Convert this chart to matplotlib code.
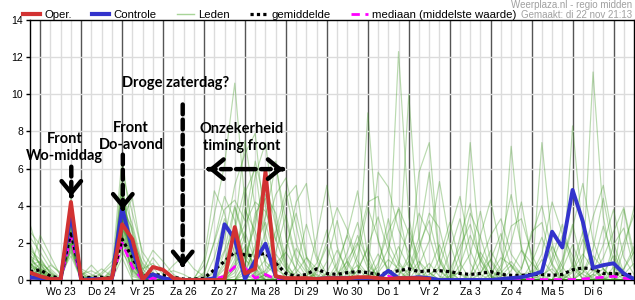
import numpy as np
import matplotlib
matplotlib.use("Agg")
import matplotlib.pyplot as plt
from matplotlib.lines import Line2D

plt.rcParams["font.family"] = ["Liberation Sans", "DejaVu Sans"]

# ── Data: 6-hourly precipitation (mm), first step = di 22 18:00 ─────────────
uren = np.arange(-6, 349, 6)  # hours after wo 23 00:00

dag_labels = ["Wo 23", "Do 24", "Vr 25", "Za 26", "Zo 27", "Ma 28", "Di 29",
              "Wo 30", "Do 1", "Vr 2", "Za 3", "Zo 4", "Ma 5", "Di 6"]

oper = [0.4, 0.2, 0.05, 0.05, 4.2, 0.0, 0.0, 0.05, 0.1, 3.0, 2.2, 0.0,
        0.7, 0.55, 0.1, 0.0, 0.0, 0.0, 0.0, 0.0, 2.85, 0.35, 0.6, 5.85,
        0.2, 0.1, 0.1, 0.1, 0.05, 0.1, 0.1, 0.1, 0.15, 0.15, 0.1, 0.05,
        0.1, 0.1, 0.1, 0.05] + [np.nan] * 20

controle = [0.15, 0.1, 0.05, 0.05, 3.6, 0.0, 0.05, 0.05, 0.05, 3.9, 1.6, 0.05,
            0.3, 0.1, 0.0, 0.0, 0.0, 0.0, 0.1, 3.0, 2.2, 0.05, 1.05, 1.95,
            0.2, 0.05, 0.05, 0.05, 0.05, 0.1, 0.1, 0.1, 0.05, 0.05, 0.05, 0.5,
            0.1, 0.1, 0.15, 0.1, 0.0, 0.0, 0.0, 0.0, 0.0, 0.0, 0.05, 0.1,
            0.15, 0.27, 0.45, 2.6, 1.75, 4.85, 3.15, 0.65, 0.8, 0.9, 0.35, 0.05]

gemiddelde = [0.45, 0.55, 0.2, 0.1, 2.6, 0.1, 0.15, 0.15, 0.1, 2.2, 1.2, 0.2,
              0.3, 0.25, 0.15, 0.05, 0.05, 0.1, 0.55, 1.0, 1.5, 1.35, 1.3, 1.45,
              0.9, 0.35, 0.2, 0.3, 0.6, 0.35, 0.3, 0.4, 0.45, 0.4, 0.3, 0.4,
              0.5, 0.6, 0.45, 0.5, 0.5, 0.45, 0.35, 0.3, 0.35, 0.45, 0.3, 0.25,
              0.25, 0.3, 0.3, 0.25, 0.3, 0.55, 0.65, 0.6, 0.35, 0.35, 0.3, 0.3]

mediaan = [0.1, 0.15, 0.0, 0.0, 2.3, 0.0, 0.0, 0.05, 0.05, 2.0, 0.7, 0.0,
           0.1, 0.05, 0.0, 0.0, 0.0, 0.0, 0.05, 0.2, 0.72, 0.65, 0.1, 0.3,
           0.05, 0.02, 0.02, 0.02, 0.05, 0.02, 0.02, 0.05, 0.05, 0.02, 0.02, 0.2,
           0.05, 0.05, 0.02, 0.02, 0.02, 0.02, 0.02, 0.02, 0.02, 0.02, 0.02, 0.02,
           0.02, 0.02, 0.02, 0.02, 0.02, 0.02, 0.05, 0.1, 0.15, 0.2, 0.1, 0.02]

lid_01 = [3.0, 1.2, 0.3, 0.0, 2.8, 0.1, 0.0, 0.0, 0.2, 4.1, 1.8, 0.0,
          0.4, 0.1, 0.0, 0.0, 0.0, 0.3, 2.1, 4.5, 3.2, 1.1, 0.6, 0.2,
          0.1, 0.0, 0.4, 1.2, 0.6, 0.0, 0.2, 1.5, 3.1, 0.8, 0.2, 0.0,
          0.0, 0.3, 1.0, 0.4, 0.0, 0.0, 0.8, 2.4, 1.1, 0.2, 0.0, 0.5,
          1.6, 0.9, 0.3, 0.0, 0.0, 0.4, 2.2, 0.7, 0.1, 0.0, 0.6, 1.8]
lid_02 = [0.5, 2.4, 1.3, 0.2, 3.4, 0.3, 0.5, 0.2, 0.0, 2.6, 0.9, 0.1,
          0.0, 0.0, 0.0, 0.0, 0.1, 0.8, 3.5, 6.2, 10.6, 4.1, 1.0, 0.3,
          0.0, 0.0, 0.0, 0.2, 0.9, 2.7, 0.5, 0.0, 0.0, 0.3, 1.4, 0.6,
          12.3, 3.4, 0.5, 0.0, 0.0, 0.2, 0.4, 0.0, 0.0, 1.1, 2.5, 0.7,
          0.2, 0.0, 0.0, 0.0, 0.6, 1.9, 0.5, 0.1, 0.0, 0.0, 0.3, 0.9]
lid_03 = [1.8, 0.8, 0.2, 0.0, 4.5, 0.2, 0.1, 0.0, 0.5, 6.6, 2.4, 0.3,
          1.2, 0.5, 0.0, 0.0, 0.0, 0.0, 0.0, 1.5, 2.8, 7.5, 3.9, 0.8,
          0.3, 0.0, 0.0, 0.0, 0.5, 1.8, 0.4, 0.0, 0.0, 9.0, 2.1, 0.3,
          0.0, 0.0, 0.0, 0.6, 1.9, 0.4, 0.0, 0.0, 0.0, 0.0, 0.2, 0.8,
          0.3, 0.0, 0.0, 1.2, 3.0, 0.9, 0.0, 0.0, 0.4, 1.3, 0.2, 0.0]
lid_04 = [0.9, 0.4, 0.0, 0.0, 1.9, 0.0, 0.0, 0.3, 0.8, 3.3, 4.4, 1.2,
          0.3, 0.0, 0.0, 0.0, 0.0, 0.0, 0.4, 2.2, 5.1, 6.8, 7.9, 2.5,
          0.6, 0.2, 0.0, 0.1, 0.3, 0.0, 0.0, 0.8, 2.4, 1.0, 0.1, 0.0,
          0.5, 10.0, 2.2, 0.4, 0.0, 0.0, 0.0, 0.3, 1.5, 0.6, 0.0, 0.0,
          0.0, 0.2, 1.1, 0.4, 0.0, 0.0, 0.6, 11.2, 3.4, 0.5, 0.0, 0.0]
lid_05 = [2.3, 1.5, 0.6, 0.1, 2.2, 0.0, 0.2, 0.6, 0.2, 1.5, 0.6, 0.0,
          0.0, 0.0, 0.2, 0.0, 0.0, 0.0, 0.0, 0.0, 0.6, 2.4, 5.6, 7.4,
          3.1, 0.8, 0.2, 0.0, 0.0, 0.0, 0.3, 1.0, 0.2, 0.0, 0.0, 0.5,
          1.8, 0.7, 5.8, 7.4, 1.2, 0.2, 0.0, 0.0, 0.0, 0.0, 0.4, 1.0,
          0.3, 0.0, 0.0, 0.0, 0.0, 0.8, 2.6, 0.9, 0.0, 0.0, 0.0, 0.2]
lid_06 = [0.2, 0.1, 0.0, 0.0, 3.1, 0.1, 0.0, 0.0, 0.0, 5.2, 1.2, 0.0,
          0.0, 0.0, 0.0, 0.0, 0.0, 1.1, 4.8, 3.6, 1.4, 0.3, 0.0, 0.0,
          0.0, 0.0, 0.0, 0.0, 0.0, 0.4, 1.6, 0.5, 0.0, 0.2, 0.7, 3.3,
          1.0, 0.2, 0.0, 0.0, 0.6, 0.0, 0.0, 7.4, 1.3, 0.2, 0.0, 0.0,
          0.0, 0.0, 7.4, 2.0, 0.3, 0.0, 0.0, 0.2, 0.6, 0.1, 0.0, 0.0]
lid_07 = [1.1, 0.6, 0.0, 0.0, 2.6, 0.4, 0.0, 0.0, 0.0, 3.8, 2.8, 0.5,
          1.6, 1.0, 0.3, 0.0, 0.0, 0.0, 0.0, 0.0, 0.2, 1.3, 2.9, 5.8,
          6.4, 2.3, 0.4, 0.0, 0.0, 0.0, 0.0, 0.0, 0.5, 1.7, 0.3, 0.0,
          0.0, 0.0, 0.3, 0.9, 0.2, 0.0, 0.0, 0.0, 0.0, 0.0, 0.0, 7.2,
          1.6, 0.3, 0.0, 0.0, 0.0, 0.0, 0.0, 0.5, 1.9, 3.8, 1.2, 0.3]
lid_08 = [0.6, 0.3, 0.8, 0.4, 1.5, 0.0, 0.0, 0.0, 0.3, 2.0, 0.5, 0.0,
          0.0, 0.0, 0.0, 0.0, 0.0, 0.0, 0.0, 0.2, 1.8, 3.0, 4.2, 3.7,
          2.1, 4.4, 5.1, 1.3, 0.2, 0.0, 0.0, 0.0, 0.0, 0.0, 0.4, 1.1,
          0.6, 0.0, 0.0, 0.0, 0.0, 0.0, 0.5, 1.4, 3.7, 1.0, 0.1, 0.0,
          0.0, 0.0, 0.3, 0.6, 0.0, 8.3, 2.4, 0.6, 0.0, 0.0, 0.0, 0.0]
lid_09 = [0.3, 0.9, 0.5, 0.0, 3.8, 0.5, 0.1, 0.0, 0.0, 4.6, 3.0, 0.8,
          0.2, 0.0, 0.0, 0.0, 0.0, 0.0, 0.0, 0.0, 0.0, 0.5, 1.7, 3.4,
          6.2, 3.2, 1.0, 0.2, 0.0, 0.0, 0.0, 0.0, 0.0, 0.0, 0.0, 0.0,
          0.0, 0.6, 2.3, 5.8, 1.1, 0.0, 0.0, 0.0, 0.4, 1.1, 0.3, 0.0,
          0.0, 0.0, 0.0, 0.0, 0.2, 0.6, 0.1, 0.0, 0.0, 0.3, 3.8, 1.0]
lid_10 = [0.0, 0.0, 0.0, 0.0, 2.0, 0.0, 0.0, 0.0, 0.0, 2.9, 1.4, 0.2,
          0.0, 0.0, 0.0, 0.0, 0.0, 0.0, 1.2, 3.3, 1.9, 0.6, 0.2, 0.5,
          1.4, 0.6, 0.0, 0.0, 0.0, 0.0, 0.0, 0.0, 0.0, 0.0, 0.0, 0.0,
          0.0, 0.0, 0.0, 0.0, 0.0, 0.0, 0.0, 0.0, 0.0, 0.0, 0.0, 0.0,
          0.0, 0.0, 0.0, 0.0, 0.0, 0.0, 0.0, 0.0, 0.0, 0.0, 0.0, 0.0]
lid_11 = [1.4, 0.2, 0.0, 0.0, 3.6, 0.2, 0.8, 0.2, 0.0, 3.5, 0.3, 0.0,
          0.0, 0.0, 0.0, 0.0, 0.0, 0.0, 0.0, 0.0, 0.0, 0.0, 0.8, 2.6,
          4.6, 5.5, 2.9, 0.6, 0.1, 0.0, 0.0, 0.3, 0.8, 0.2, 0.0, 0.0,
          0.0, 0.0, 0.0, 0.0, 1.2, 3.1, 0.9, 0.0, 0.0, 0.0, 0.0, 0.0,
          0.2, 0.5, 0.0, 0.0, 0.0, 0.0, 0.0, 0.0, 0.0, 0.7, 0.2, 0.0]
lid_12 = [0.8, 1.0, 0.4, 0.0, 2.4, 0.0, 0.0, 0.0, 0.0, 4.9, 1.9, 0.6,
          0.9, 0.3, 0.5, 0.3, 0.0, 0.0, 0.0, 0.8, 3.9, 2.0, 0.3, 0.0,
          0.0, 0.0, 0.0, 0.0, 0.0, 0.0, 0.0, 0.0, 0.0, 0.5, 5.8, 5.0,
          2.7, 1.5, 0.3, 0.0, 0.0, 0.0, 0.0, 0.0, 0.0, 0.0, 0.6, 2.0,
          4.2, 1.1, 0.0, 0.0, 0.0, 0.0, 0.0, 0.0, 0.0, 0.0, 0.0, 0.0]
lid_13 = [2.0, 0.7, 0.1, 0.0, 1.7, 0.0, 0.0, 0.4, 1.0, 2.3, 0.4, 0.0,
          0.0, 0.2, 0.8, 1.3, 0.6, 0.2, 0.0, 0.0, 0.6, 4.7, 6.0, 1.9,
          0.2, 0.0, 0.0, 0.0, 0.0, 0.0, 0.9, 2.4, 0.7, 0.0, 0.0, 0.0,
          0.0, 0.0, 0.0, 0.0, 0.0, 0.0, 0.0, 0.0, 0.0, 0.0, 0.0, 0.0,
          0.0, 0.9, 2.3, 0.8, 0.0, 0.0, 0.0, 0.0, 0.0, 0.0, 0.6, 1.5]
lid_14 = [0.4, 0.2, 0.0, 0.0, 4.0, 0.3, 0.0, 0.0, 0.0, 1.7, 0.2, 0.0,
          0.0, 0.0, 0.0, 0.0, 0.0, 0.0, 0.0, 0.0, 0.0, 0.0, 0.0, 0.3,
          1.5, 3.5, 1.2, 0.4, 0.0, 0.0, 0.0, 0.0, 0.0, 0.0, 0.0, 0.0,
          0.3, 1.0, 0.2, 0.0, 0.0, 0.0, 0.0, 0.0, 0.0, 0.0, 0.0, 0.0,
          0.0, 0.0, 0.0, 0.0, 0.0, 0.0, 0.4, 1.7, 4.4, 1.5, 0.3, 0.0]
lid_15 = [2.6, 1.9, 0.9, 0.3, 1.3, 0.0, 0.0, 0.0, 0.0, 3.1, 2.2, 0.9,
          0.4, 0.0, 0.0, 0.0, 0.0, 0.0, 0.0, 0.0, 0.0, 0.0, 0.0, 0.0,
          0.0, 0.0, 0.0, 0.0, 0.0, 1.0, 3.2, 0.9, 0.0, 0.0, 0.0, 0.0,
          0.0, 0.0, 0.0, 0.0, 0.0, 0.0, 0.0, 0.0, 0.3, 1.6, 0.5, 0.0,
          0.0, 0.0, 0.0, 0.0, 0.0, 0.0, 0.0, 0.3, 0.0, 0.0, 0.0, 0.0]
lid_16 = [0.0, 0.3, 0.0, 0.0, 3.3, 0.6, 0.3, 0.0, 0.0, 5.8, 3.6, 1.5,
          0.7, 0.0, 0.0, 0.0, 0.0, 0.0, 0.0, 0.6, 2.7, 5.0, 2.1, 0.2,
          0.0, 0.0, 0.7, 3.0, 1.1, 0.0, 0.0, 0.0, 0.0, 0.0, 0.0, 0.0,
          0.0, 0.0, 0.0, 0.0, 0.0, 0.0, 0.0, 0.0, 0.0, 0.0, 0.0, 0.0,
          0.0, 0.0, 0.0, 0.0, 0.0, 0.0, 0.0, 0.0, 0.0, 0.0, 0.0, 0.0]
lid_17 = [0.7, 0.5, 0.2, 0.0, 2.1, 0.0, 0.0, 0.0, 0.4, 3.6, 0.8, 0.0,
          0.0, 0.0, 0.0, 0.0, 0.0, 0.4, 2.0, 3.8, 4.3, 3.2, 6.4, 4.0,
          1.1, 0.4, 0.0, 0.0, 0.0, 0.3, 0.0, 0.0, 0.0, 0.0, 0.0, 0.0,
          0.0, 0.0, 0.0, 0.0, 0.0, 0.0, 2.3, 4.1, 0.8, 0.0, 0.0, 0.0,
          0.0, 0.0, 0.0, 0.0, 0.0, 0.0, 0.0, 0.0, 0.0, 0.0, 0.0, 0.0]
lid_18 = [1.0, 0.0, 0.0, 0.0, 3.0, 0.0, 0.0, 0.0, 0.0, 2.4, 1.0, 0.0,
          0.0, 0.0, 0.0, 0.0, 0.0, 0.0, 0.0, 0.0, 0.0, 0.0, 0.4, 1.1,
          2.6, 4.8, 2.0, 0.5, 0.0, 0.0, 0.0, 0.0, 0.0, 0.0, 0.0, 0.0,
          0.0, 0.0, 0.0, 0.0, 0.0, 0.0, 0.0, 0.0, 0.0, 0.0, 0.0, 0.0,
          0.0, 0.0, 0.0, 0.0, 0.0, 0.0, 0.0, 0.0, 0.0, 0.0, 0.0, 0.0]
lid_19 = [0.1, 0.0, 0.0, 0.0, 2.9, 0.2, 0.0, 0.0, 0.0, 3.9, 1.2, 0.0,
          0.0, 0.0, 0.0, 0.0, 0.0, 0.0, 0.0, 0.0, 0.0, 0.0, 0.0, 0.0,
          0.0, 0.0, 0.0, 0.0, 0.0, 0.0, 0.0, 0.6, 1.9, 4.2, 4.5, 2.0,
          0.8, 0.4, 1.6, 3.6, 2.8, 0.5, 0.0, 0.0, 1.0, 2.4, 3.3, 1.4,
          0.6, 2.6, 3.1, 0.9, 0.0, 0.0, 0.0, 0.0, 0.0, 0.4, 2.0, 3.5]
lid_20 = [0.3, 0.4, 0.0, 0.0, 1.9, 0.0, 0.2, 0.0, 0.0, 3.2, 0.0, 0.0,
          0.0, 0.0, 0.0, 0.0, 0.0, 0.0, 0.0, 0.0, 0.0, 0.0, 0.0, 0.0,
          0.3, 1.5, 4.2, 5.2, 1.3, 0.3, 0.0, 0.0, 0.0, 0.0, 0.0, 0.0,
          0.2, 1.3, 3.6, 2.4, 0.5, 0.0, 0.0, 0.0, 0.0, 0.0, 0.0, 0.0,
          0.0, 0.3, 1.4, 4.2, 2.5, 0.7, 0.3, 0.0, 0.0, 0.0, 0.0, 0.0]
lid_21 = [1.6, 1.1, 0.4, 0.0, 2.5, 0.0, 0.0, 0.0, 0.2, 4.3, 1.6, 0.4,
          0.0, 0.0, 0.0, 0.0, 0.0, 0.0, 0.0, 0.0, 0.4, 1.5, 0.9, 0.2,
          0.0, 0.0, 0.0, 0.0, 0.0, 0.0, 0.0, 0.0, 0.0, 0.0, 0.0, 0.0,
          0.0, 0.0, 0.0, 0.3, 0.7, 2.6, 4.5, 1.6, 0.3, 0.0, 0.8, 2.9,
          3.3, 1.4, 0.2, 0.0, 0.0, 0.0, 0.4, 1.3, 0.6, 0.0, 0.0, 0.0]
lid_22 = [0.4, 0.0, 0.0, 0.0, 3.5, 0.4, 0.0, 0.0, 0.0, 2.7, 2.0, 0.3,
          0.0, 0.0, 0.0, 0.0, 0.0, 0.0, 0.0, 0.3, 1.4, 2.6, 1.0, 0.0,
          0.0, 0.0, 0.0, 0.0, 0.0, 0.0, 0.0, 0.0, 0.0, 0.0, 0.0, 0.0,
          0.0, 0.0, 0.0, 0.0, 0.0, 0.0, 0.0, 0.0, 0.0, 0.3, 1.2, 0.8,
          0.0, 0.0, 0.0, 0.0, 0.9, 2.8, 5.2, 2.1, 0.6, 0.0, 0.0, 0.0]
lid_23 = [1.2, 0.6, 0.0, 0.0, 2.3, 0.0, 0.0, 0.0, 0.0, 4.0, 1.1, 0.0,
          0.0, 0.0, 0.0, 0.0, 0.0, 0.0, 0.0, 0.0, 0.0, 0.9, 3.6, 4.4,
          2.2, 0.6, 0.0, 0.0, 0.0, 0.0, 0.0, 0.0, 0.0, 0.0, 0.0, 0.0,
          0.0, 0.0, 0.0, 0.0, 0.0, 0.0, 0.0, 0.0, 0.0, 0.0, 0.0, 0.0,
          0.0, 0.0, 0.0, 0.0, 0.0, 0.0, 0.0, 0.0, 0.0, 0.0, 0.0, 0.0]
lid_24 = [0.5, 0.3, 0.0, 0.0, 2.7, 0.0, 0.0, 0.0, 0.6, 3.4, 1.3, 0.0,
          0.0, 0.0, 0.0, 0.0, 0.0, 0.0, 0.0, 0.0, 0.0, 0.0, 0.0, 0.3,
          0.9, 1.5, 0.6, 0.0, 0.0, 0.0, 0.0, 0.0, 0.5, 1.8, 3.4, 1.5,
          0.5, 0.0, 0.0, 0.0, 0.0, 0.0, 0.0, 0.0, 0.0, 0.0, 0.0, 0.0,
          0.0, 0.0, 0.0, 0.0, 0.0, 0.0, 0.0, 0.0, 0.0, 0.0, 0.0, 0.0]
lid_25 = [0.2, 0.0, 0.0, 0.0, 1.6, 0.0, 0.0, 0.0, 0.0, 2.2, 0.6, 0.0,
          0.0, 0.0, 0.0, 0.0, 0.0, 0.0, 0.0, 0.0, 0.0, 0.3, 1.9, 3.1,
          1.0, 0.0, 0.0, 0.0, 0.4, 2.1, 3.9, 2.7, 1.0, 0.3, 0.0, 0.0,
          0.0, 0.0, 0.0, 0.0, 0.0, 0.5, 1.8, 3.0, 1.1, 0.0, 0.0, 0.0,
          0.0, 0.0, 0.0, 0.0, 0.0, 0.0, 0.0, 0.3, 1.2, 2.6, 3.9, 1.4]
lid_26 = [0.9, 0.5, 0.0, 0.0, 3.2, 0.0, 0.0, 0.0, 0.0, 1.2, 0.0, 0.0,
          0.0, 0.0, 0.0, 0.0, 0.0, 0.0, 0.0, 0.0, 0.0, 0.0, 0.0, 0.0,
          0.0, 0.0, 0.0, 0.0, 0.0, 0.0, 0.0, 0.0, 0.0, 0.0, 0.5, 1.7,
          3.9, 2.5, 0.6, 0.0, 0.0, 0.0, 0.0, 0.0, 0.0, 0.0, 0.0, 0.0,
          0.0, 0.0, 0.0, 0.0, 0.0, 0.5, 1.4, 0.6, 0.0, 0.0, 0.0, 0.0]
lid_27 = [1.3, 0.9, 0.2, 0.0, 3.7, 0.0, 0.0, 0.0, 0.0, 5.3, 0.9, 0.0,
          0.0, 0.0, 0.0, 0.0, 0.0, 0.0, 0.0, 0.0, 0.9, 1.8, 0.6, 0.0,
          0.0, 0.0, 0.0, 0.0, 0.0, 0.0, 0.0, 0.0, 0.0, 0.0, 0.0, 0.0,
          0.0, 0.0, 0.0, 0.0, 0.0, 0.0, 0.0, 0.0, 0.0, 0.0, 0.0, 0.0,
          0.0, 0.0, 0.6, 1.8, 0.7, 0.0, 0.0, 0.0, 0.0, 0.0, 0.0, 0.0]
lid_28 = [0.6, 0.0, 0.0, 0.0, 2.0, 0.0, 0.0, 0.0, 0.0, 3.0, 1.5, 0.3,
          0.0, 0.0, 0.0, 0.0, 0.0, 0.0, 0.0, 0.0, 0.0, 0.0, 0.0, 0.0,
          0.0, 0.0, 0.0, 0.0, 0.0, 0.0, 0.0, 0.0, 0.0, 0.0, 0.0, 0.0,
          0.0, 0.0, 0.0, 0.0, 0.0, 0.0, 0.0, 0.0, 0.0, 0.0, 0.0, 0.0,
          0.0, 0.0, 0.0, 0.0, 0.0, 0.0, 0.0, 0.0, 0.0, 0.0, 0.0, 0.0]
lid_29 = [0.3, 0.0, 0.0, 0.0, 2.4, 0.0, 0.0, 0.0, 0.0, 3.6, 0.8, 0.0,
          0.0, 0.0, 0.0, 0.0, 0.0, 0.0, 0.5, 1.6, 4.0, 2.2, 0.4, 0.0,
          0.0, 0.3, 1.7, 0.8, 0.0, 0.0, 0.6, 2.5, 4.8, 1.3, 0.0, 0.0,
          0.9, 2.8, 1.0, 0.0, 0.0, 1.5, 3.3, 0.9, 0.0, 0.0, 2.1, 4.6,
          1.8, 0.2, 0.0, 0.0, 1.1, 3.0, 0.7, 0.0, 0.0, 1.9, 2.8, 0.6]
lid_30 = [0.8, 0.5, 0.0, 0.0, 3.3, 0.0, 0.0, 0.0, 0.0, 4.4, 2.0, 0.0,
          0.0, 0.0, 0.0, 0.0, 0.0, 0.0, 0.0, 0.0, 1.1, 3.8, 2.6, 1.0,
          0.4, 1.8, 3.6, 1.2, 0.0, 0.0, 0.0, 0.0, 1.3, 3.9, 2.2, 0.4,
          0.0, 0.0, 0.8, 2.1, 5.3, 2.0, 0.3, 0.0, 0.0, 0.0, 0.0, 0.0,
          0.6, 2.4, 4.0, 1.5, 0.2, 0.0, 0.0, 0.8, 2.9, 1.1, 0.0, 0.0]
lid_31 = [0.0, 0.0, 0.0, 0.0, 2.2, 0.0, 0.0, 0.0, 0.0, 2.5, 0.5, 0.0,
          0.0, 0.0, 0.0, 0.0, 0.0, 0.0, 0.0, 0.0, 0.0, 0.8, 3.3, 5.4,
          2.9, 0.7, 0.0, 0.0, 2.3, 5.1, 1.8, 0.3, 0.0, 0.0, 0.9, 2.6,
          3.8, 1.0, 0.0, 0.0, 0.0, 0.0, 1.4, 3.6, 2.3, 0.5, 0.0, 0.0,
          0.0, 0.0, 0.0, 0.9, 2.4, 1.3, 0.0, 0.0, 0.0, 0.0, 1.6, 3.9]
lid_32 = [1.5, 0.9, 0.0, 0.0, 2.9, 0.0, 0.0, 0.0, 0.0, 3.0, 1.7, 0.4,
          0.0, 0.0, 0.0, 0.0, 0.0, 0.0, 0.0, 0.2, 0.7, 1.4, 0.5, 0.0,
          0.0, 0.0, 0.0, 0.0, 0.0, 0.0, 0.0, 0.0, 0.0, 0.0, 0.0, 0.0,
          0.0, 0.4, 1.9, 3.2, 1.0, 0.0, 0.0, 0.0, 2.4, 4.3, 1.6, 0.2,
          0.0, 0.0, 0.0, 0.0, 0.0, 0.0, 1.2, 3.4, 5.1, 2.0, 0.4, 0.0]
lid_33 = [0.2, 0.6, 0.3, 0.0, 1.8, 0.0, 0.0, 0.0, 0.0, 2.8, 1.1, 0.0,
          0.0, 0.0, 0.0, 0.0, 0.0, 0.0, 0.0, 1.0, 2.5, 1.2, 0.2, 0.0,
          0.0, 0.0, 0.0, 0.0, 0.0, 0.0, 0.0, 1.1, 2.0, 0.6, 0.0, 0.0,
          0.0, 0.0, 0.0, 0.0, 0.0, 0.0, 0.0, 0.0, 0.0, 0.0, 0.0, 0.0,
          0.0, 0.0, 0.0, 0.0, 0.0, 0.0, 0.0, 0.0, 0.0, 0.0, 0.0, 0.0]
lid_34 = [0.7, 0.4, 0.0, 0.0, 3.9, 0.2, 0.0, 0.0, 0.0, 4.2, 2.6, 0.6,
          0.0, 0.0, 0.0, 0.0, 0.0, 0.0, 0.0, 0.0, 0.0, 0.0, 1.2, 4.6,
          3.6, 1.0, 0.0, 0.0, 0.0, 0.0, 0.0, 0.0, 0.0, 0.0, 0.0, 0.0,
          0.0, 0.0, 0.0, 0.0, 0.0, 0.0, 0.0, 0.0, 0.0, 0.0, 0.0, 0.0,
          0.0, 0.0, 0.0, 0.0, 0.0, 0.0, 0.0, 0.0, 0.0, 0.0, 0.0, 0.0]

leden = [lid_01, lid_02, lid_03, lid_04, lid_05, lid_06, lid_07, lid_08,
         lid_09, lid_10, lid_11, lid_12, lid_13, lid_14, lid_15, lid_16,
         lid_17, lid_18, lid_19, lid_20, lid_21, lid_22, lid_23, lid_24,
         lid_25, lid_26, lid_27, lid_28, lid_29, lid_30, lid_31, lid_32,
         lid_33, lid_34]

# ── Style ────────────────────────────────────────────────────────────────────
RED = "#d23232"
BLUE = "#3333cc"
GREEN = "#3f9a22"
MAGENTA = "#ff00ff"
GRID_LIGHT = "#dcdcdc"
GRID_DARK = "#555555"
ANNOT_FONT = ["Lato", "DejaVu Sans"]

fig = plt.figure(figsize=(6.35, 3.0), dpi=100)
ax = fig.add_axes([30 / 635, 20 / 300, 604 / 635, 260 / 300])

# grid: light every 6 h, dark at midnight, light horizontal every 2 mm
for h in range(0, 348, 6):
    ax.axvline(h, color=GRID_DARK if h % 24 == 0 else GRID_LIGHT,
               lw=1.0, zorder=0)
for v in range(2, 14, 2):
    ax.axhline(v, color=GRID_LIGHT, lw=1.0, zorder=0)

for lid in leden:
    ax.plot(uren, lid, color=GREEN, lw=0.85, alpha=0.36, zorder=2)

ax.plot(uren, mediaan, color=MAGENTA, lw=2.0, ls=(0, (3, 2)), zorder=3)
ax.plot(uren, gemiddelde, color="black", lw=2.3, ls=(0, (1, 1)), zorder=4)
ax.plot(uren, controle, color=BLUE, lw=2.8, zorder=5)
ax.plot(uren, oper, color=RED, lw=2.8, zorder=6)

ax.set_xlim(-6, 348)
ax.set_ylim(0, 14)
ax.set_yticks(range(0, 15, 2))
ax.set_xticks(np.arange(12, 348, 24))
ax.set_xticklabels(dag_labels)
ax.set_xticks(np.arange(-6, 349, 6), minor=True)
ax.tick_params(axis="both", which="both", direction="out", length=3,
               width=1, labelsize=7.5, pad=2)
for sp in ax.spines.values():
    sp.set_color("black")
    sp.set_linewidth(1.0)


# ── Annotations (dashed arrows with open chevron heads) ─────────────────────
def dashed_arrow(start, tip):
    ax.annotate("", xy=tip, xytext=start,
                arrowprops=dict(arrowstyle="-", lw=3.2, ls=(0, (2.2, 1.2)),
                                color="black", shrinkA=0, shrinkB=1.5),
                zorder=8)
    dx = (tip[0] - start[0]) * 0.02
    dy = (tip[1] - start[1]) * 0.02
    ax.annotate("", xy=tip, xytext=(tip[0] - dx, tip[1] - dy),
                arrowprops=dict(arrowstyle="->,head_length=0.85,head_width=0.7",
                                lw=3.2, color="black", shrinkA=0, shrinkB=0),
                zorder=8)


dashed_arrow((18.2, 6.1), (18.2, 4.5))
dashed_arrow((48.4, 6.75), (48.4, 3.8))
dashed_arrow((83.5, 9.45), (83.5, 0.7))
dashed_arrow((120.5, 5.97), (98.5, 5.97))
dashed_arrow((120.5, 5.97), (142.4, 5.97))

tekst = dict(ha="center", va="center", fontsize=10.5, fontweight="bold",
             family=ANNOT_FONT, linespacing=1.3, zorder=9)
ax.text(14.3, 7.13, "Front\nWo-middag", **tekst)
ax.text(53.3, 7.71, "Front\nDo-avond", **tekst)
ax.text(79.5, 10.61, "Droge zaterdag?", **tekst)
ax.text(118.1, 7.67, "Onzekerheid\ntiming front", **tekst)

# ── Legend + header ──────────────────────────────────────────────────────────
handles = [
    Line2D([], [], color=RED, lw=3),
    Line2D([], [], color=BLUE, lw=3),
    Line2D([], [], color="#a8d498", lw=1),
    Line2D([], [], color="black", lw=2.3, ls=(0, (1, 1))),
    Line2D([], [], color=MAGENTA, lw=2, ls=(0, (3, 2))),
]
labels = ["Oper.", "Controle", "Leden", "gemiddelde", "mediaan (middelste waarde)"]
fig.legend(handles, labels, loc="center left", ncol=5, frameon=False,
           bbox_to_anchor=(23 / 635, 1 - 15 / 300), fontsize=8.2,
           handlelength=1.5, handletextpad=0.35, columnspacing=1.8,
           borderpad=0, borderaxespad=0)

fig.text(632 / 635, 1 - 5 / 300, "Weerplaza.nl - regio midden", ha="right",
         va="center", fontsize=7, color="#a0a0a0")
fig.text(632 / 635, 1 - 14.5 / 300, "Gemaakt: di 22 nov 21:13", ha="right",
         va="center", fontsize=7, color="#a0a0a0")

fig.savefig("out.png", dpi=100)
